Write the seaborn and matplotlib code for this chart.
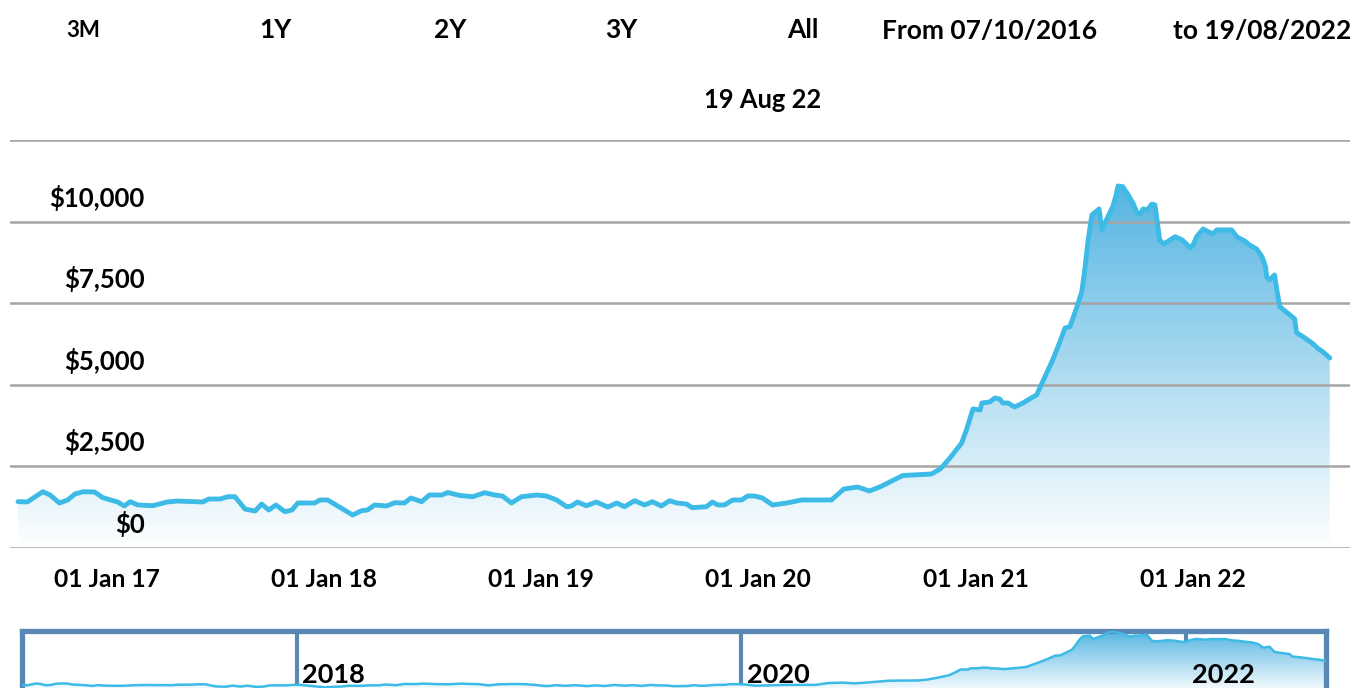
import numpy as np
import pandas as pd
import seaborn as sns
import matplotlib.pyplot as plt
import matplotlib.dates as mdates
import matplotlib.transforms as mtransforms
from matplotlib.colors import LinearSegmentedColormap

sns.set_theme(style='white')
plt.rcParams['font.family'] = ['Lato', 'DejaVu Sans']

# data
dates = [
    "2016-10-07", "2016-10-16", "2016-10-31", "2016-11-07", "2016-11-16", "2016-11-24", "2016-12-01", "2016-12-09",
    "2016-12-20", "2016-12-28",
    "2017-01-19", "2017-01-30", "2017-02-09", "2017-02-22", "2017-03-19", "2017-04-12", "2017-04-29", "2017-06-11",
    "2017-06-21", "2017-07-10", "2017-07-23", "2017-08-04", "2017-08-21", "2017-09-07", "2017-09-18", "2017-09-30",
    "2017-10-12", "2017-10-27", "2017-11-08", "2017-11-18", "2017-12-16", "2017-12-25",
    "2018-01-07", "2018-02-01", "2018-02-18", "2018-03-05", "2018-03-15", "2018-03-27", "2018-04-16", "2018-04-30",
    "2018-05-16", "2018-05-27", "2018-06-14", "2018-06-27", "2018-07-18", "2018-07-28", "2018-08-17", "2018-09-08",
    "2018-09-28", "2018-10-15", "2018-10-28", "2018-11-12", "2018-11-29", "2018-12-25",
    "2019-01-10", "2019-01-27", "2019-02-13", "2019-02-21", "2019-03-03", "2019-03-18", "2019-04-04", "2019-04-23",
    "2019-05-08", "2019-05-21", "2019-06-07", "2019-06-24", "2019-07-07", "2019-07-22", "2019-08-05", "2019-08-17",
    "2019-09-02", "2019-09-12", "2019-10-06", "2019-10-16", "2019-10-25", "2019-11-05", "2019-11-19", "2019-12-04",
    "2019-12-14", "2019-12-26",
    "2020-01-08", "2020-01-25", "2020-02-18", "2020-03-14", "2020-05-03", "2020-05-24", "2020-06-16", "2020-07-06",
    "2020-07-25", "2020-08-31", "2020-10-18", "2020-11-02", "2020-11-17", "2020-12-08", "2020-12-16", "2020-12-27",
    "2021-01-08", "2021-01-11", "2021-01-24", "2021-02-02", "2021-02-10", "2021-02-15", "2021-02-24", "2021-03-07",
    "2021-03-21", "2021-04-02", "2021-04-13", "2021-04-30", "2021-05-10", "2021-05-19", "2021-05-31", "2021-06-08",
    "2021-06-20", "2021-06-28", "2021-07-03", "2021-07-08", "2021-07-15", "2021-07-27", "2021-08-01", "2021-08-11",
    "2021-08-19", "2021-08-24", "2021-08-28", "2021-09-05", "2021-09-14", "2021-09-22", "2021-09-29", "2021-10-04",
    "2021-10-09", "2021-10-16", "2021-10-24", "2021-10-29", "2021-11-06", "2021-11-13", "2021-12-02", "2021-12-14",
    "2021-12-27",
    "2022-01-01", "2022-01-08", "2022-01-18", "2022-02-03", "2022-02-10", "2022-03-07", "2022-03-16", "2022-03-29",
    "2022-04-06", "2022-04-18", "2022-04-27", "2022-05-03", "2022-05-05", "2022-05-10", "2022-05-18", "2022-05-22",
    "2022-05-27", "2022-06-21", "2022-06-24", "2022-07-05", "2022-07-20", "2022-07-31", "2022-08-07", "2022-08-19",
]
values = [
    1420, 1410, 1725, 1624, 1379, 1471, 1655, 1725, 1716, 1541,
    1409, 1287, 1419, 1318, 1296, 1409, 1440, 1409, 1501, 1501, 1572, 1572, 1195, 1134, 1348, 1164,
    1318, 1112, 1164, 1379, 1379, 1471,
    1471, 1195, 1011, 1143, 1164, 1318, 1287, 1388, 1379, 1532, 1419, 1624, 1624, 1700, 1609, 1572,
    1694, 1624, 1593, 1379, 1572, 1624,
    1593, 1471, 1265, 1287, 1409, 1296, 1409, 1256, 1379, 1265, 1449, 1318, 1419, 1287, 1449, 1379,
    1348, 1235, 1265, 1409, 1318, 1318, 1471, 1471, 1593, 1593,
    1532, 1318, 1379, 1471, 1471, 1808, 1869, 1746, 1884, 2221, 2267, 2421, 2727, 3217, 3616, 4259,
    4228, 4443, 4473, 4596, 4565, 4443, 4443, 4320, 4443, 4575, 4688, 5362, 5760, 6168, 6741, 6781,
    7393, 7853, 8518, 9345, 10203, 10387, 9744, 10151, 10457, 10764, 11092, 11070, 10816, 10571, 10264, 10234,
    10387, 10356, 10540, 10510, 9437, 9315, 9538, 9437, 9201,
    9284, 9560, 9774, 9621, 9744, 9744, 9529, 9406, 9284, 9161, 8925, 8619, 8303, 8212, 8365, 7905,
    7393, 7017, 6597, 6474, 6281, 6097, 6015, 5822,
]

y_ticks = [0, 2500, 5000, 7500, 10000, 12500]
y_labels = ['$0', '$2,500', '$5,000', '$7,500', '$10,000', '']
x_ticks = ['2017-01-01', '2018-01-01', '2019-01-01', '2020-01-01', '2021-01-01', '2022-01-01']
x_labels = ['01 Jan 17', '01 Jan 18', '01 Jan 19', '01 Jan 20', '01 Jan 21', '01 Jan 22']
nav_ticks = ['2018-01-01', '2020-01-01', '2022-01-01']
nav_labels = ['2018', '2020', '2022']
buttons = ['3M', '1Y', '2Y', '3Y', 'All', 'From 07/10/2016', 'to 19/08/2022']

LINE = '#3dbbe6'
GRID = '#a5a5a5'
NAV = '#5b87b5'

df = pd.DataFrame({'date': pd.to_datetime(dates), 'value': values})
df['num'] = mdates.date2num(df['date'])

W, H = 1369, 688
fig = plt.figure(figsize=(W / 100, H / 100), dpi=100)

# stock-chart style ordinal axis: first months are stretched
d_start = df['num'].iloc[0]
d_2017 = mdates.date2num(pd.Timestamp('2017-01-01'))
s1 = 89 / (d_2017 - d_start)
s2 = 1086 / (mdates.date2num(pd.Timestamp('2022-01-01')) - d_2017)


def fwd(d):
    d = np.asarray(d, dtype=float)
    return np.where(d < d_2017, 107 + (d - d_2017) * s1, 107 + (d - d_2017) * s2)


def inv(p):
    p = np.asarray(p, dtype=float)
    return np.where(p < 107, d_2017 + (p - 107) / s1, d_2017 + (p - 107) / s2)


def gradient_fill(axis, x, y, top):
    poly = axis.fill_between(x, y, 0, color='none', lw=0)
    cmap = LinearSegmentedColormap.from_list('area', ['#ffffff', '#55b5e2'])
    grad = np.linspace(0, 1, 256).reshape(-1, 1)
    im = axis.imshow(grad, cmap=cmap, aspect='auto', origin='lower',
                     extent=[0, 1, 0, top], transform=axis.transAxes, zorder=1)
    im.set_clip_path(poly.get_paths()[0], transform=axis.transData)


# main chart
ax = fig.add_axes([10 / W, 1 - 548 / H, 1340 / W, 408 / H])
ax.set_xscale('function', functions=(fwd, inv))
gradient_fill(ax, df['num'], df['value'], max(values) / 12500)
sns.lineplot(data=df, x='num', y='value', ax=ax, color=LINE, linewidth=3.5, zorder=3)
ax.set_xlim(float(inv(10)), float(inv(1350)))
ax.set_ylim(0, 12500)
ax.set_axisbelow(False)
ax.grid(axis='y', color=GRID, linewidth=1.8)
ax.grid(axis='x', visible=False)
for s in ax.spines.values():
    s.set_visible(False)
ax.set_xlabel('')
ax.set_ylabel('')

ax.set_yticks(y_ticks)
ax.set_yticklabels(y_labels, fontsize=18.5, fontweight='bold', color='black')
ax.tick_params(axis='y', length=0, pad=-97)
offset = mtransforms.ScaledTranslation(0, 0.26, fig.dpi_scale_trans)
for lab in ax.get_yticklabels():
    lab.set_transform(lab.get_transform() + offset)

ax.set_xticks(mdates.date2num(pd.to_datetime(x_ticks)))
ax.set_xticklabels(x_labels, fontsize=17.7, fontweight='bold', color='black')
ax.tick_params(axis='x', length=0, pad=14.5)

# range selector and date header
btn_x = [83, 275, 450, 621, 803, 990, 1262]
for label, bx in zip(buttons, btn_x):
    small = label == '3M'
    fig.text(bx / W, 1 - 30.5 / H, label, ha='center', va='center',
             fontsize=16 if small else 19, fontweight='bold', color='black')
fig.text(763 / W, 1 - 99.5 / H, '19 Aug 22', ha='center', va='center',
         fontsize=18.4, fontweight='bold', color='black')

# navigator
nav = fig.add_axes([22 / W, 1 - 693 / H, 1304 / W, 62 / H])
gradient_fill(nav, df['num'], df['value'], max(values) / 11200)
sns.lineplot(data=df, x='num', y='value', ax=nav, color=LINE, linewidth=1.8, zorder=3)
nav.set_xlim(df['num'].iloc[0], df['num'].iloc[-1])
nav.set_ylim(0, 11200)
nav.set_xlabel('')
nav.set_ylabel('')
nav.set_yticks([])
nav_pos = mdates.date2num(pd.to_datetime(nav_ticks))
nav.set_xticks(nav_pos)
nav.set_xticklabels([])
nav.tick_params(axis='x', length=0)
nav.grid(axis='x', color=NAV, linewidth=3)
nav.grid(axis='y', visible=False)
for side in ['top', 'left', 'right']:
    nav.spines[side].set_color(NAV)
    nav.spines[side].set_linewidth(3.8)
nav.spines['bottom'].set_visible(False)
for p, lab in zip(nav_pos, nav_labels):
    nav.annotate(lab, xy=(p, 0.29), xycoords=('data', 'axes fraction'), xytext=(4, 0),
                 textcoords='offset points', ha='left', va='center',
                 fontsize=19.5, fontweight='bold', color='black', zorder=4)

fig.savefig('out.png', dpi=100)
